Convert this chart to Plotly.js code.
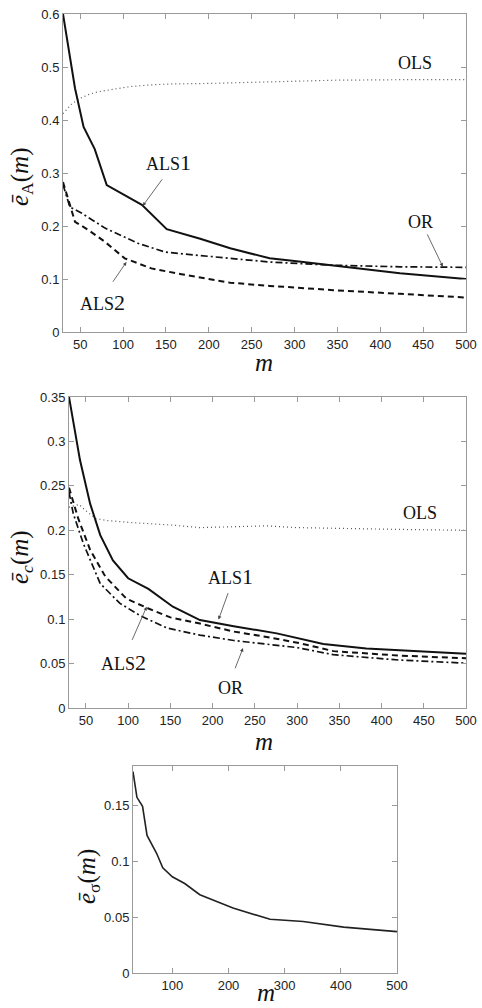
<!DOCTYPE html>
<html>
<head>
<meta charset="utf-8">
<script src="https://cdn.plot.ly/plotly-3.0.1.min.js"></script>
<style>
  html, body { margin: 0; padding: 0; background: #fff; }
  #chart { width: 482px; height: 1008px; }
</style>
</head>
<body>
<div id="chart"></div>
<script>
// ---- Panel 1: mean error of A versus sample size m ----
const mALS1_A = [30, 44, 54, 67, 81, 100, 122, 151, 190, 225, 271, 300, 353, 423, 500];
const eALS1_A = [0.600, 0.460, 0.387, 0.345, 0.277, 0.260, 0.240, 0.194, 0.176, 0.158, 0.139, 0.134, 0.124, 0.111, 0.100];
const mALS2_A = [30, 36, 40, 44, 60, 79, 102, 133, 168, 225, 271, 345, 423, 500];
const eALS2_A = [0.283, 0.249, 0.230, 0.208, 0.192, 0.170, 0.139, 0.120, 0.109, 0.093, 0.087, 0.079, 0.072, 0.065];
const mOR_A   = [30, 38, 52, 79, 118, 149, 172, 225, 271, 345, 423, 500];
const eOR_A   = [0.278, 0.236, 0.224, 0.196, 0.167, 0.151, 0.147, 0.139, 0.132, 0.126, 0.123, 0.122];
const mOLS_A  = [30, 40, 50, 60, 70, 85, 108, 130, 155, 200, 225, 270, 345, 420, 500];
const eOLS_A  = [0.412, 0.430, 0.441, 0.448, 0.453, 0.457, 0.463, 0.466, 0.468, 0.469, 0.470, 0.472, 0.475, 0.476, 0.476];

// ---- Panel 2: mean error of c versus m ----
const mALS1_c = [30, 43, 55, 67, 82, 100, 124, 153, 185, 225, 276, 331, 382, 440, 500];
const eALS1_c = [0.350, 0.279, 0.230, 0.1945, 0.166, 0.146, 0.134, 0.114, 0.099, 0.092, 0.084, 0.072, 0.067, 0.064, 0.061];
const mALS2_c = [30, 41, 55, 73, 98, 124, 150, 185, 225, 264, 303, 343, 420, 500];
const eALS2_c = [0.248, 0.213, 0.178, 0.148, 0.123, 0.112, 0.102, 0.095, 0.086, 0.080, 0.073, 0.064, 0.059, 0.056];
const mOR_c   = [30, 35, 47, 67, 90, 114, 146, 185, 225, 264, 300, 343, 420, 500];
const eOR_c   = [0.243, 0.219, 0.185, 0.140, 0.118, 0.104, 0.090, 0.082, 0.076, 0.072, 0.068, 0.060, 0.054, 0.0505];
const mOLS_c  = [30, 42, 50, 62, 75, 100, 150, 185, 225, 264, 300, 343, 420, 500];
const eOLS_c  = [0.226, 0.229, 0.222, 0.213, 0.211, 0.209, 0.206, 0.203, 0.204, 0.205, 0.203, 0.202, 0.201, 0.200];

// ---- Panel 3: mean error of sigma versus m ----
const mSig = [30, 37, 47, 55, 72, 83, 100, 122, 149, 208, 274, 333, 405, 500];
const eSig = [0.180, 0.157, 0.149, 0.123, 0.107, 0.094, 0.086, 0.080, 0.070, 0.058, 0.048, 0.046, 0.041, 0.037];

// ---- tick labels ----
const xTicks50  = [50, 100, 150, 200, 250, 300, 350, 400, 450, 500];
const xTicks100 = [100, 200, 300, 400, 500];
const yTicksA   = [0, 0.1, 0.2, 0.3, 0.4, 0.5, 0.6];
const yTextA    = ['0', '0.1', '0.2', '0.3', '0.4', '0.5', '0.6'];
const yTicksC   = [0, 0.05, 0.1, 0.15, 0.2, 0.25, 0.3, 0.35];
const yTextC    = ['0', '0.05', '0.1', '0.15', '0.2', '0.25', '0.3', '0.35'];
const yTicksS   = [0, 0.05, 0.1, 0.15];
const yTextS    = ['0', '0.05', '0.1', '0.15'];

const W = 482, H = 1008;
const px = v => v / W;          // horizontal pixel -> paper fraction
const py = v => 1 - v / H;      // vertical pixel -> paper fraction

const solid  = { color: '#111', width: 2 };
const dashed = { color: '#111', width: 2, dash: '6px,4px' };
const dashdot = { color: '#111', width: 1.7, dash: '7px,3px,2px,3px' };
const dotted = { color: '#555', width: 1.2, dash: '1px,3px' };

function tr(x, y, line, xa, ya) {
  return { x: x, y: y, type: 'scatter', mode: 'lines', line: line,
           xaxis: xa, yaxis: ya, hoverinfo: 'skip' };
}

const data = [
  tr(mOLS_A, eOLS_A, dotted, 'x', 'y'),
  tr(mOR_A, eOR_A, dashdot, 'x', 'y'),
  tr(mALS2_A, eALS2_A, dashed, 'x', 'y'),
  tr(mALS1_A, eALS1_A, solid, 'x', 'y'),
  tr(mOLS_c, eOLS_c, dotted, 'x2', 'y2'),
  tr(mOR_c, eOR_c, dashdot, 'x2', 'y2'),
  tr(mALS2_c, eALS2_c, dashed, 'x2', 'y2'),
  tr(mALS1_c, eALS1_c, solid, 'x2', 'y2'),
  tr(mSig, eSig, { color: '#222', width: 1.6 }, 'x3', 'y3')
];

const tickFont = { family: 'Liberation Sans, Arial, sans-serif', size: 13, color: '#222' };
function axis(extra) {
  return Object.assign({
    showline: true, linecolor: '#9a9a9a', linewidth: 1, mirror: 'ticks',
    ticks: 'inside', ticklen: 5, tickcolor: '#9a9a9a', tickwidth: 1,
    showgrid: false, zeroline: false, tickfont: tickFont, fixedrange: true
  }, extra);
}

const serif = 'Liberation Serif, Times New Roman, serif';
const labelFont = { family: serif, size: 18, color: '#111' };
const titleFont = { family: serif, size: 25, color: '#111' };

function label(text, x, y, xr, yr) {
  return { text: text, x: x, y: y, xref: xr, yref: yr, showarrow: false,
           font: labelFont, xanchor: 'center', yanchor: 'middle' };
}
function pointer(x, y, ax, ay, xr, yr) {
  return { text: '', x: x, y: y, ax: ax, ay: ay, xref: xr, yref: yr,
           axref: xr, ayref: yr, showarrow: true, arrowhead: 2, arrowsize: 0.9,
           arrowwidth: 0.8, arrowcolor: '#444' };
}
function ptitle(text, x, y, angle, anchorY) {
  return { text: text, x: px(x), y: py(y), xref: 'paper', yref: 'paper',
           showarrow: false, font: titleFont, textangle: angle,
           xanchor: 'center', yanchor: anchorY || 'middle' };
}
const one = '<span style="font-size:22px">1</span>';
const two = '<span style="font-size:22px">2</span>';

const annotations = [
  // panel 1
  label('OLS', 440, 0.508, 'x', 'y'),
  label('ALS' + one, 153, 0.320, 'x', 'y'),
  pointer(123, 0.238, 147, 0.291, 'x', 'y'),
  label('OR', 447, 0.208, 'x', 'y'),
  pointer(473, 0.123, 454, 0.187, 'x', 'y'),
  label('ALS' + two, 76, 0.055, 'x', 'y'),
  pointer(104, 0.132, 87, 0.092, 'x', 'y'),
  // panel 2
  label('OLS', 446, 0.220, 'x2', 'y2'),
  label('ALS' + one, 221, 0.148, 'x2', 'y2'),
  pointer(207, 0.0995, 219, 0.131, 'x2', 'y2'),
  label('ALS' + two, 94, 0.051, 'x2', 'y2'),
  pointer(122, 0.114, 104, 0.075, 'x2', 'y2'),
  label('OR', 221, 0.0225, 'x2', 'y2'),
  pointer(236, 0.0674, 226, 0.043, 'x2', 'y2'),
  // axis titles
  ptitle('<i>ē</i><sub>A</sub>(<i>m</i>)', 21, 177, -90),
  ptitle('<i>m</i>', 264, 362, 0),
  ptitle('<i>ē</i><sub><i>c</i></sub>(<i>m</i>)', 21, 557, -90),
  ptitle('<i>m</i>', 264, 741, 0),
  ptitle('<i>ē</i><sub>σ</sub>(<i>m</i>)', 88, 877, -90),
  ptitle('<i>m</i>', 266, 1008, 0, 'bottom')
];

const layout = {
  width: W, height: H,
  margin: { l: 0, r: 0, t: 0, b: 0, pad: 0 },
  paper_bgcolor: '#fff', plot_bgcolor: '#fff',
  showlegend: false,
  xaxis:  axis({ domain: [px(63), px(466)], range: [30, 500], tickvals: xTicks50, anchor: 'y' }),
  yaxis:  axis({ domain: [py(332), py(14)], range: [0, 0.6], tickvals: yTicksA, ticktext: yTextA, anchor: 'x' }),
  xaxis2: axis({ domain: [px(69), px(466)], range: [30, 500], tickvals: xTicks50, anchor: 'y2' }),
  yaxis2: axis({ domain: [py(708), py(397)], range: [0, 0.35], tickvals: yTicksC, ticktext: yTextC, anchor: 'x2' }),
  xaxis3: axis({ domain: [px(133), px(397)], range: [30, 500], tickvals: xTicks100, anchor: 'y3' }),
  yaxis3: axis({ domain: [py(973), py(766)], range: [0, 0.185], tickvals: yTicksS, ticktext: yTextS, anchor: 'x3' }),
  annotations: annotations
};

Plotly.newPlot('chart', data, layout, { displayModeBar: false, staticPlot: true });
</script>
</body>
</html>
